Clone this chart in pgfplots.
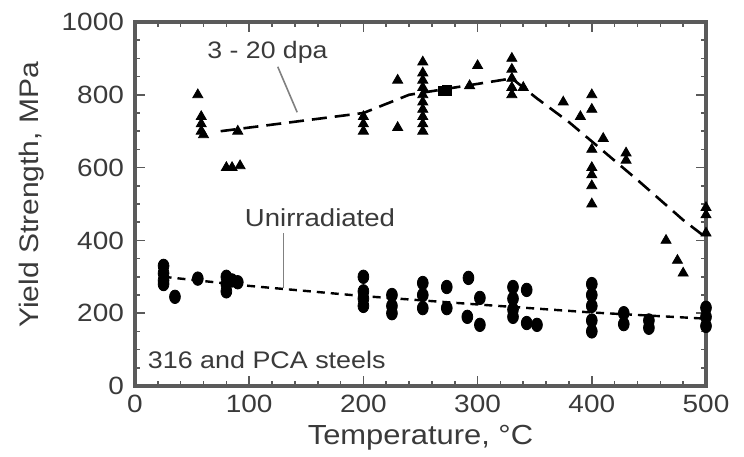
\documentclass[border=0pt]{standalone}
\usepackage{pgfplots}
\pgfplotsset{compat=1.18}
\usepackage{fontspec}
\setmainfont[FakeStretch=1.12]{Liberation Sans}

\definecolor{txt}{HTML}{3A3A3A}
\definecolor{frame}{HTML}{5A5A5A}

% irradiated (3 - 20 dpa) yield strengths, MPa
\pgfplotstableread{
T    S
55   800
58   740
58   720
58   700
60   690
90   700
80   600
85   600
92   605
200  740
200  720
200  700
230  840
230  710
252  890
252  860
252  840
252  820
252  800
252  780
252  760
252  740
252  720
252  700
293  825
300  880
330  900
330  870
330  845
330  820
330  800
340  820
375  780
400  800
400  760
390  740
410  680
430  640
430  620
400  650
400  600
400  580
400  550
400  500
465  400
475  345
480  310
500  490
500  470
500  420
}\irr

% irradiated, square symbols
\pgfplotstableread{
T    S
270  810
273  812
}\irrsq

% unirradiated yield strengths, MPa
\pgfplotstableread{
T    S
25   330
25   310
25   290
25   280
35   245
55   295
80   300
80   280
80   260
85   290
90   285
200  300
200  260
200  240
200  220
225  250
225  220
225  200
252  283
252  250
252  214
273  272
273  214
292  297
302  242
291  190
302  168
331  272
331  240
331  210
331  190
343  264
343  173
352  168
400  280
400  250
400  220
400  180
400  150
428  200
428  170
450  180
450  160
500  215
500  190
500  165
}\unirr

% trend lines
\pgfplotstableread{
T    S
75   700
200  750
240  800
330  845
352  790
380  725
400  672
440  566
480  456
497  415
}\irrfit

\pgfplotstableread{
T    S
25   300
100  275
200  247
300  224
400  202
500  185
}\unirrfit

\begin{document}
\begin{tikzpicture}[x=1pt,y=1pt]
\useasboundingbox (-67.5,-35) rectangle (304.5,193);
% heading above the plot, trimmed by the page edge
\node[anchor=south, inner sep=0pt, text=black, font=\fontsize{40}{44}\selectfont] at (193.5,198) {g};
\begin{axis}[
  at={(0,0)}, anchor=south west,
  scale only axis,
  width=285.5pt, height=182pt,
  xmin=0, xmax=500, ymin=0, ymax=1000,
  xtick={0,100,...,500}, ytick={0,200,...,1000},
  minor x tick num=4, minor y tick num=3,
  tick align=inside,
  major tick length=5pt, minor tick length=2.5pt,
  every tick/.style={frame, line width=0.8pt},
  axis line style={frame, line width=1.6pt},
  /pgf/number format/assume math mode=true,
  /pgf/number format/1000 sep={},
  tick label style={text=txt, font=\fontsize{12.5}{14}\selectfont},
  xticklabel style={yshift=-1pt},
  yticklabel style={xshift=-2pt},
  xlabel={Temperature, °C},
  ylabel={Yield Strength, MPa},
  every axis x label/.style={at={(axis description cs:0.5,0)}, yshift=-26pt, anchor=center,
    text=txt, font=\fontsize{13.8}{15}\selectfont},
  every axis y label/.style={at={(axis description cs:0,0.525)}, xshift=-51.5pt, rotate=90, anchor=center,
    text=txt, font=\fontsize{13.4}{15}\selectfont},
  clip=false,
]
% trend lines
\addplot[black, line width=1.3pt, dash pattern=on 7.5pt off 4pt, no marks] table[x=T,y=S] {\irrfit};
\addplot[black, line width=1.2pt, dash pattern=on 4pt off 3pt, no marks] table[x=T,y=S] {\unirrfit};
% data
\addplot[only marks, mark=triangle*, mark size=2.9pt, black] table[x=T,y=S] {\irr};
\addplot[only marks, mark=square*, mark size=2.3pt, black] table[x=T,y=S] {\irrsq};
\addplot[only marks, mark=*, mark size=2.7pt, black, mark options={yscale=1.25}] table[x=T,y=S] {\unirr};
% annotations
\draw[gray, line width=0.8pt] (axis cs:125,877) -- (axis cs:142,752);
\draw[gray, line width=0.8pt] (axis cs:130,420) -- (axis cs:130,270);
\node[text=txt, font=\fontsize{11.9}{13}\selectfont] at (axis cs:116,918) {3 - 20 dpa};
\node[text=txt, font=\fontsize{12.3}{14}\selectfont] at (axis cs:162,461) {Unirradiated};
\node[text=txt, font=\fontsize{12}{14}\selectfont, anchor=west, inner sep=0pt] at (axis cs:11,71) {316 and PCA steels};
\end{axis}
\end{tikzpicture}
\end{document}
